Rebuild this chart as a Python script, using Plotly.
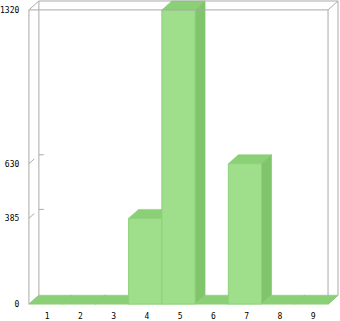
import plotly.graph_objects as go

categories = [1, 2, 3, 4, 5, 6, 7, 8, 9]
values = [0, 0, 0, 385, 1320, 0, 630, 0, 0]
ytick_vals = [0, 385, 630, 1320]
ytick_text = ["0", "385", "630", "1320"]
xtick_text = [str(c) for c in categories]

# pseudo-3D depth in data units
DX = 0.3
DY = 40
YMAX = 1320
XMIN, XMAX = 0.5, 9.5

FRONT = "#9FDE8A"
SIDE = "#80C46C"
TOP = "#8BCF77"
EDGE = "#8FD17B"
GRID = "#AAAAAA"

fig = go.Figure()

def poly(xs, ys, fill, line=None, width=0.6):
    fig.add_trace(go.Scatter(x=xs + [xs[0]], y=ys + [ys[0]], mode="lines", fill="toself",
                             fillcolor=fill, line=dict(color=line or fill, width=width),
                             hoverinfo="skip", showlegend=False))

def seg(xs, ys, color=GRID, width=1):
    fig.add_trace(go.Scatter(x=xs, y=ys, mode="lines", line=dict(color=color, width=width),
                             hoverinfo="skip", showlegend=False))

# back wall / frame verticals
seg([XMIN + DX, XMIN + DX], [DY, YMAX + DY])
seg([XMAX + DX, XMAX + DX], [DY, YMAX + DY])
seg([XMIN, XMIN], [0, YMAX])
seg([XMAX, XMAX], [0, YMAX])
seg([XMIN, XMIN + DX], [0, DY])

# ticks on back wall and diagonal ticks on front
bx, by, dxs, dys = [], [], [], []
for v in ytick_vals[1:-1]:
    bx += [XMIN + DX, XMIN + DX + 0.15, None]
    by += [v + DY, v + DY, None]
    dxs += [XMIN, XMIN + DX * 0.55, None]
    dys += [v, v + DY * 0.55, None]
seg(bx, by)
seg(dxs, dys)

# bars
for c, v in zip(categories, values):
    l, r = c - 0.5, c + 0.5
    poly([l, r, r + DX, l + DX], [v, v, v + DY, v + DY], TOP)
    poly([r, r + DX, r + DX, r], [0, DY, v + DY, v], SIDE)
    if v > 0:
        poly([l, r, r, l], [0, 0, v, v], FRONT, line=EDGE, width=1)

# top frame lines over bars
seg([XMIN, XMAX], [YMAX, YMAX])
seg([XMIN + DX, XMAX + DX], [YMAX + DY, YMAX + DY])
seg([XMIN, XMIN + DX], [YMAX, YMAX + DY])
seg([XMAX, XMAX + DX], [YMAX, YMAX + DY])

W, H = 340, 321
pxx = (XMAX - XMIN) / 300.0
pxy = YMAX / 297.0
x0 = XMIN - 28 * pxx
x1 = XMIN + (W - 28) * pxx
y0 = -(H - 307) * pxy
y1 = YMAX + 10 * pxy

font = dict(family="DejaVu Sans Mono", size=8, color="#000000")
fig.update_layout(
    width=W, height=H, margin=dict(l=0, r=0, t=0, b=0),
    plot_bgcolor="white", paper_bgcolor="white",
    xaxis=dict(range=[x0, x1], showgrid=False, zeroline=False, showline=False,
               tickvals=[c + 0.05 for c in categories], ticktext=xtick_text, ticks="outside", ticklen=4,
               tickcolor="rgba(0,0,0,0)", tickfont=font,
               anchor="free", position=(H - 307) / H),
    yaxis=dict(range=[y0, y1], showgrid=False, zeroline=False, showline=False,
               tickvals=ytick_vals, ticktext=ytick_text, ticks="outside", ticklen=8,
               tickcolor="rgba(0,0,0,0)", tickfont=font,
               anchor="free", position=28 / W),
)
fig.write_html("out.html")
